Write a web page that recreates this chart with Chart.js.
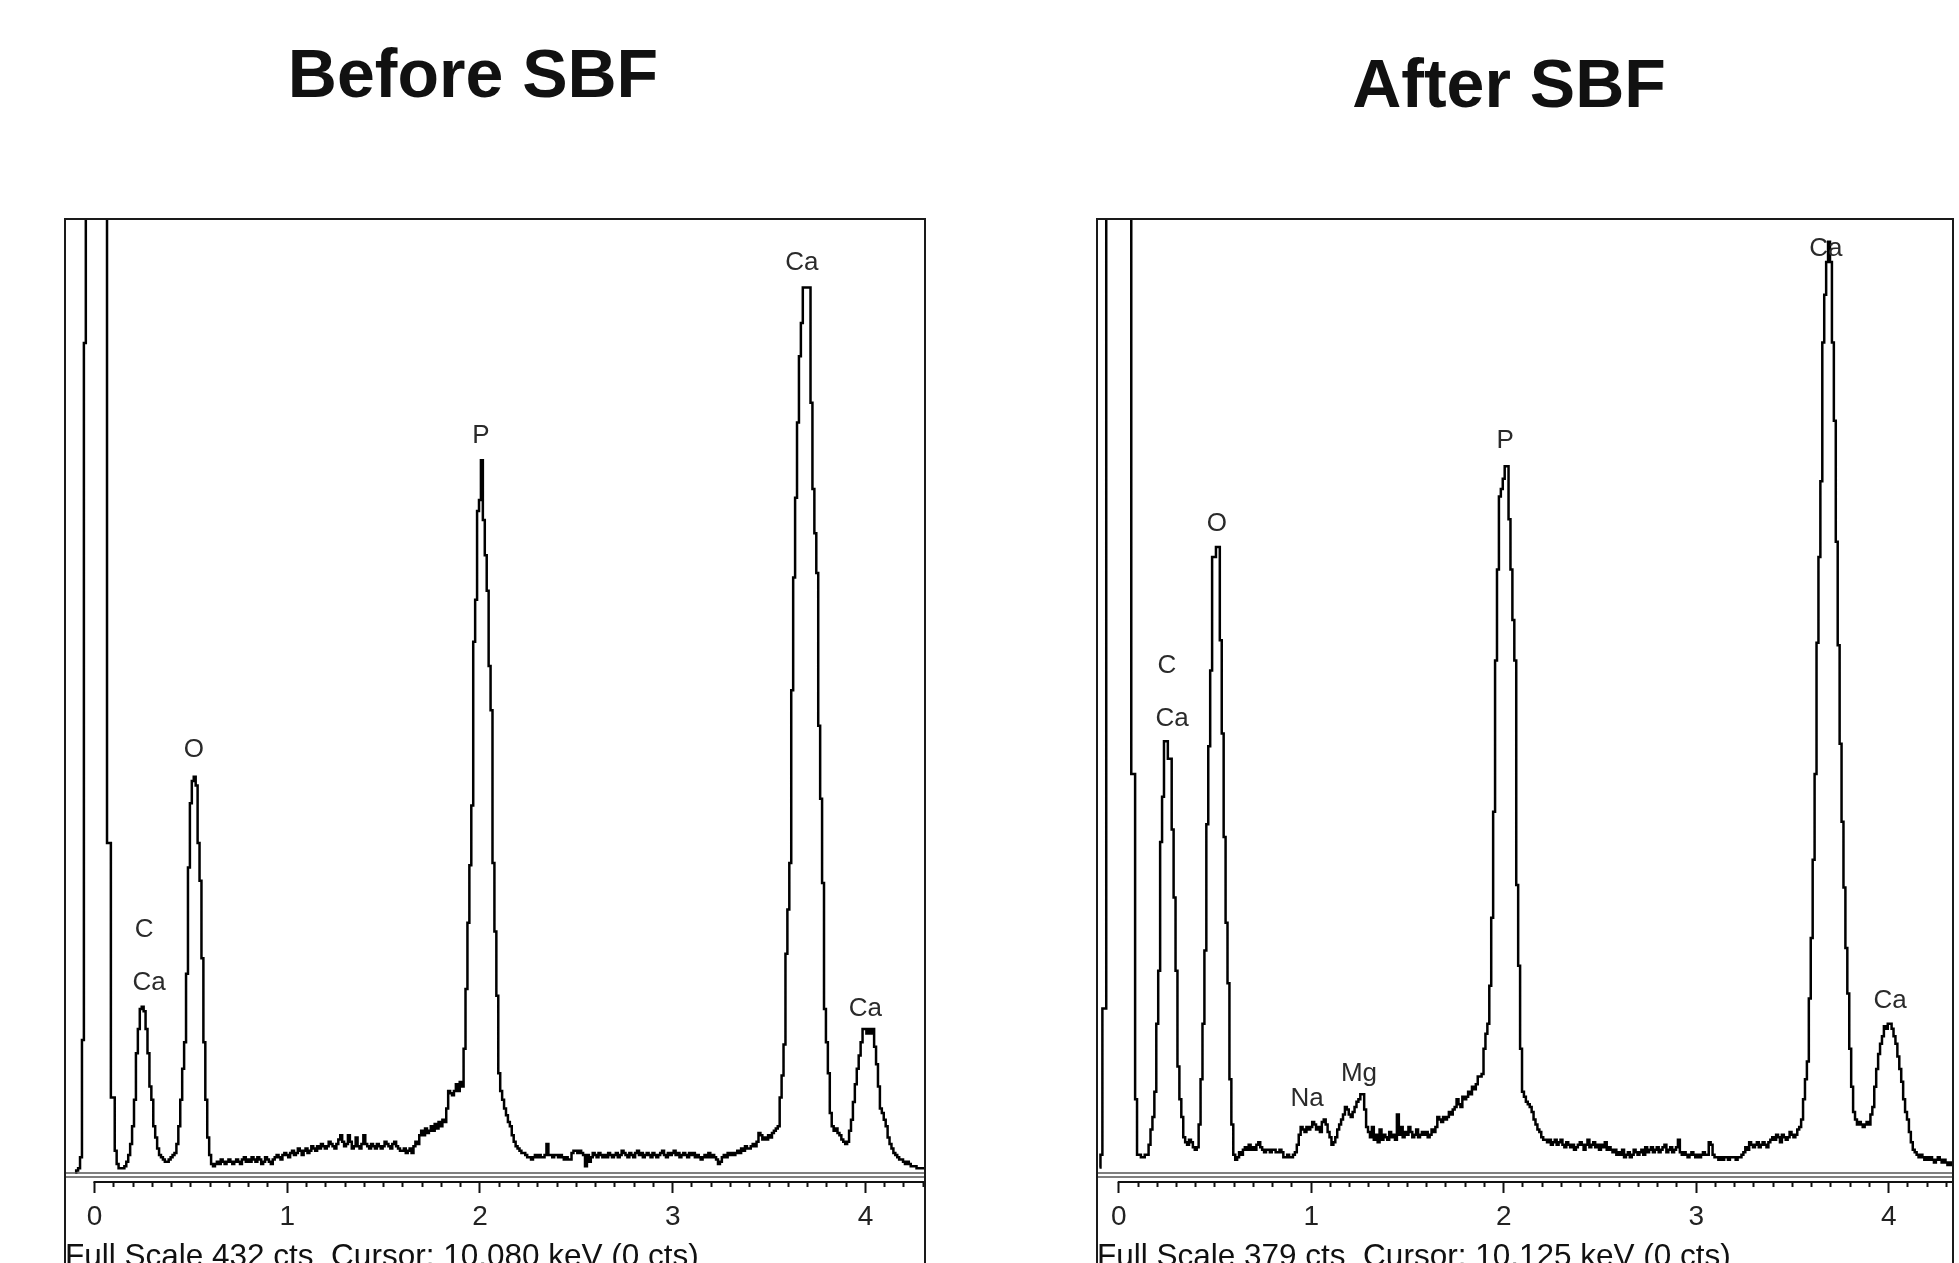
<!DOCTYPE html>
<html lang="en">
<head>
<meta charset="UTF-8">
<title>EDS spectra before and after SBF</title>
<script src="https://cdn.jsdelivr.net/npm/chart.js"></script>
<style>
  html, body { margin: 0; padding: 0; overflow: hidden; background: #fff; }
  body { width: 1959px; height: 1263px; position: relative; }
  canvas { position: absolute; top: 0; }
  #before { left: 0; }
  #after { left: 1059px; }
</style>
</head>
<body>
<canvas id="before" width="946" height="1280"></canvas>
<canvas id="after" width="900" height="1280"></canvas>

<script>
// spectra are stored per channel: first channel at -0.10 keV, 10 eV per channel
var channelStart = -0.10;
var channelWidth = 0.01;

// counts per channel, one row = 0.1 keV
var beforeCounts = [
  1, 2, 3, 8, 61, 376, 700, 999, 999, 999,          // -0.10
  999, 999, 999, 999, 999, 999, 999, 150, 150, 35,  // 0.00
  35, 11, 5, 3, 3, 3, 4, 6, 9, 14,                  // 0.10
  22, 34, 55, 66, 75, 76, 74, 66, 55, 40,           // 0.20
  34, 22, 17, 12, 9, 8, 7, 6, 6, 7,                 // 0.30
  8, 9, 10, 14, 22, 34, 48, 60, 91, 139,            // 0.40
  168, 178, 180, 176, 150, 133, 98, 60, 34, 17,     // 0.50
  9, 5, 4, 5, 6, 5, 7, 6, 5, 6,                     // 0.60
  7, 6, 5, 6, 7, 6, 5, 7, 8, 6,                     // 0.70
  7, 6, 8, 7, 6, 8, 7, 5, 6, 8,                     // 0.80
  7, 6, 5, 7, 8, 9, 8, 7, 9, 10,                    // 0.90
  9, 8, 10, 11, 9, 10, 12, 11, 9, 11,               // 1.00
  12, 10, 11, 13, 12, 11, 13, 12, 14, 13,           // 1.10
  12, 13, 15, 14, 13, 12, 14, 16, 18, 15,           // 1.20
  13, 14, 18, 15, 12, 13, 17, 13, 12, 14,           // 1.30
  18, 14, 13, 12, 14, 13, 12, 14, 13, 12,           // 1.40
  13, 15, 14, 13, 12, 14, 15, 13, 12, 11,           // 1.50
  11, 12, 10, 11, 12, 10, 13, 15, 14, 18,           // 1.60
  20, 18, 21, 19, 20, 22, 20, 23, 21, 24,           // 1.70
  22, 25, 24, 30, 38, 37, 36, 38, 41, 38,           // 1.80
  42, 40, 57, 84, 114, 140, 167, 241, 260, 300,     // 1.90
  305, 323, 296, 280, 264, 230, 210, 141, 110, 81,  // 2.00
  46, 38, 34, 30, 27, 24, 22, 18, 15, 13,           // 2.10
  12, 11, 10, 10, 9, 8, 8, 7, 8, 9,                 // 2.20
  8, 9, 8, 8, 9, 14, 9, 9, 8, 9,                    // 2.30
  9, 8, 9, 8, 7, 8, 7, 7, 10, 11,                   // 2.40
  11, 10, 11, 10, 9, 4, 9, 6, 8, 10,                // 2.50
  9, 8, 10, 9, 8, 9, 8, 10, 9, 8,                   // 2.60
  9, 10, 8, 9, 11, 10, 9, 8, 10, 9,                 // 2.70
  8, 10, 11, 9, 10, 8, 9, 10, 9, 8,                 // 2.80
  10, 9, 8, 9, 10, 11, 9, 8, 10, 9,                 // 2.90
  10, 11, 9, 10, 8, 9, 10, 9, 8, 10,                // 3.00
  9, 10, 8, 9, 8, 7, 8, 9, 8, 10,                   // 3.10
  8, 9, 8, 7, 5, 6, 8, 9, 8, 10,                    // 3.20
  9, 10, 9, 10, 11, 10, 12, 11, 13, 12,             // 3.30
  12, 13, 14, 13, 15, 19, 18, 16, 17, 16,           // 3.40
  18, 17, 19, 20, 21, 22, 35, 45, 59, 100,          // 3.50
  120, 141, 219, 270, 306, 340, 370, 385, 401, 401, // 3.60
  401, 401, 349, 310, 290, 272, 203, 170, 132, 75,  // 3.70
  60, 46, 28, 22, 20, 21, 19, 18, 16, 15,           // 3.80
  14, 15, 20, 25, 33, 41, 48, 54, 60, 66,           // 3.90
  66, 64, 66, 64, 66, 58, 50, 40, 30, 28,           // 4.00
  25, 22, 17, 14, 12, 10, 9, 8, 7, 7,               // 4.10
  6, 5, 6, 5, 4, 4, 4, 3, 3, 3,                     // 4.20
  3, 3                                              // 4.30
];

var afterCounts = [
  3, 8, 66, 66, 999, 999, 999, 999, 999, 999,       // -0.10
  999, 999, 999, 999, 999, 999, 999, 159, 159, 30,  // 0.00
  8, 8, 7, 7, 8, 8, 12, 18, 23, 33,                 // 0.10
  60, 81, 132, 150, 172, 172, 165, 165, 137, 110,   // 0.20
  81, 43, 30, 23, 15, 13, 12, 14, 13, 11,           // 0.30
  10, 11, 20, 38, 60, 89, 139, 170, 200, 245,       // 0.40
  245, 249, 249, 212, 175, 134, 100, 76, 38, 20,    // 0.50
  8, 6, 7, 9, 8, 10, 11, 10, 12, 10,                // 0.60
  11, 10, 12, 13, 11, 10, 9, 10, 10, 9,             // 0.70
  10, 10, 9, 9, 10, 9, 7, 7, 8, 7,                  // 0.80
  7, 8, 9, 12, 16, 19, 18, 17, 19, 18,              // 0.90
  19, 21, 20, 18, 19, 17, 21, 22, 20, 17,           // 1.00
  15, 12, 13, 15, 18, 20, 22, 24, 27, 26,           // 1.10
  24, 23, 25, 27, 29, 30, 32, 32, 26, 19,           // 1.20
  17, 15, 19, 14, 16, 13, 18, 14, 16, 15,           // 1.30
  14, 17, 15, 16, 14, 24, 16, 19, 15, 17,           // 1.40
  16, 19, 17, 15, 16, 18, 15, 16, 17, 16,           // 1.50
  17, 15, 16, 18, 17, 19, 23, 22, 21, 23,           // 1.60
  22, 23, 25, 24, 26, 27, 30, 28, 27, 31,           // 1.70
  30, 31, 33, 32, 35, 34, 36, 39, 39, 40,           // 1.80
  50, 56, 60, 75, 102, 144, 204, 240, 269, 272,     // 1.90
  276, 281, 281, 260, 240, 220, 204, 115, 83, 50,   // 2.00
  33, 31, 29, 28, 27, 25, 22, 20, 18, 17,           // 2.10
  15, 14, 14, 13, 14, 12, 13, 14, 12, 13,           // 2.20
  14, 12, 11, 13, 12, 11, 12, 10, 11, 12,           // 2.30
  13, 12, 10, 12, 14, 11, 12, 13, 11, 12,           // 2.40
  10, 12, 11, 13, 10, 11, 10, 9, 10, 8,             // 2.50
  9, 8, 10, 7, 8, 9, 7, 8, 10, 9,                   // 2.60
  8, 9, 10, 8, 11, 9, 10, 11, 9, 10,                // 2.70
  11, 9, 10, 11, 12, 9, 10, 11, 9, 10,              // 2.80
  11, 14, 9, 8, 9, 8, 7, 8, 9, 8,                   // 2.90
  7, 8, 7, 8, 9, 8, 8, 13, 12, 8,                   // 3.00
  7, 7, 6, 7, 6, 7, 7, 6, 7, 7,                     // 3.10
  7, 6, 7, 7, 8, 9, 11, 10, 13, 12,                 // 3.20
  11, 12, 13, 11, 12, 13, 12, 11, 13, 14,           // 3.30
  15, 14, 16, 15, 13, 16, 15, 14, 15, 17,           // 3.40
  16, 15, 16, 18, 19, 22, 30, 38, 45, 70,           // 3.50
  94, 125, 159, 211, 245, 275, 330, 349, 362, 370,  // 3.60
  362, 330, 299, 251, 210, 171, 140, 114, 90, 72,   // 3.70
  50, 35, 25, 22, 20, 21, 20, 19, 20, 21,           // 3.80
  20, 24, 27, 35, 42, 48, 52, 55, 59, 58,           // 3.90
  60, 60, 58, 55, 52, 47, 42, 37, 30, 25,           // 4.00
  22, 17, 13, 10, 9, 8, 7, 8, 7, 6,                 // 4.10
  7, 6, 7, 6, 5, 6, 7, 6, 5, 6,                     // 4.20
  5, 4, 5, 4                                        // 4.30
];

// peak labels (energy in keV, height in counts)
var beforeLabelText = ['Ca', 'P', 'O', 'C', 'Ca', 'Ca'];
var beforeLabelKeV = [3.67, 2.005, 0.516, 0.257, 0.283, 4.0];
var beforeLabelCts = [412, 334, 192, 111, 87, 75];

var afterLabelText = ['Ca', 'P', 'O', 'C', 'Ca', 'Na', 'Mg', 'Ca'];
var afterLabelKeV = [3.674, 2.007, 0.51, 0.25, 0.277, 0.978, 1.248, 4.007];
var afterLabelCts = [367, 291, 258, 202, 181, 30, 40, 69];

// energy axis: labelled every keV, small ticks every 0.1 keV
var majorTicks = [0, 1, 2, 3, 4];
var energyTicks = [];
for (var i = 0; i <= 44; i++) energyTicks.push(i / 10);

Chart.defaults.font.family = "'Liberation Sans', Arial, Helvetica, sans-serif";
Chart.defaults.color = '#222';

function isMajor(v) {
  return majorTicks.some(function (m) { return Math.abs(m - v) < 1e-6; });
}

function channelPoints(counts) {
  return counts.map(function (c, i) {
    return { x: +(channelStart + i * channelWidth).toFixed(2), y: c };
  });
}

// box around the plot (runs off the bottom of the page), double base line and the keV axis line
var framePlugin = {
  id: 'edsFrame',
  afterDraw: function (chart) {
    var ctx = chart.ctx;
    var area = chart.chartArea;
    var zero = chart.scales.y.getPixelForValue(0);
    ctx.save();
    ctx.strokeStyle = '#555';
    ctx.lineWidth = 1.5;
    ctx.beginPath();
    ctx.moveTo(area.left, zero - 2); ctx.lineTo(area.right, zero - 2);
    ctx.moveTo(area.left, zero + 2); ctx.lineTo(area.right, zero + 2);
    ctx.stroke();

    ctx.strokeStyle = '#111';
    ctx.lineWidth = 2;
    ctx.beginPath();
    ctx.moveTo(chart.scales.x.getPixelForValue(0) - 1, area.bottom);
    ctx.lineTo(area.right, area.bottom);
    ctx.stroke();

    ctx.strokeStyle = '#1a1a1a';
    ctx.strokeRect(area.left, area.top, area.right - area.left, chart.height);
    ctx.restore();
  }
};

function makePeakLabels(text, keV, cts) {
  return {
    id: 'peakLabels',
    afterDatasetsDraw: function (chart) {
      var ctx = chart.ctx;
      ctx.save();
      ctx.font = "26px 'Liberation Sans', Arial, sans-serif";
      ctx.fillStyle = '#2a2a2a';
      ctx.textAlign = 'center';
      ctx.textBaseline = 'middle';
      for (var i = 0; i < text.length; i++) {
        ctx.fillText(text[i], chart.scales.x.getPixelForValue(keV[i]), chart.scales.y.getPixelForValue(cts[i]));
      }
      ctx.restore();
    }
  };
}

function drawSpectrum(canvasId, o) {
  return new Chart(document.getElementById(canvasId), {
    type: 'line',
    data: {
      datasets: [{
        data: channelPoints(o.counts),
        borderColor: '#000',
        borderWidth: 2.5,
        pointRadius: 0,
        stepped: 'middle',
        fill: false
      }]
    },
    options: {
      responsive: false,
      animation: false,
      events: [],
      layout: { padding: 0 },
      plugins: {
        legend: { display: false },
        tooltip: { enabled: false },
        title: {
          display: true,
          text: o.title,
          color: '#111',
          font: { size: 68, weight: 'bold' },
          padding: { top: o.titleTop, bottom: o.titleGap }
        }
      },
      scales: {
        x: {
          type: 'linear',
          min: o.kevMin,
          max: o.kevMax,
          afterBuildTicks: function (s) {
            s.ticks = energyTicks.filter(function (v) { return v <= o.kevMax; })
              .map(function (v) { return { value: v }; });
          },
          afterFit: function (s) { s.height = 98; },
          border: { display: false },
          grid: {
            drawOnChartArea: false,
            tickLength: 11,
            tickWidth: 2,
            tickColor: '#111',
            tickBorderDash: function (c) {
              return c.tick && isMajor(c.tick.value) ? [] : [5, 40];
            }
          },
          ticks: {
            autoSkip: false,
            maxRotation: 0,
            padding: 7,
            color: '#222',
            font: { size: 28 },
            callback: function (v) { return isMajor(v) ? String(Math.round(v)) : ''; }
          },
          title: {
            display: true,
            text: o.footer,
            align: 'start',
            color: '#111',
            font: { size: 31.5 },
            padding: { top: 0, bottom: 4 }
          }
        },
        y: {
          type: 'linear',
          position: 'left',
          min: o.ctsMin,
          max: o.fullScale,
          afterFit: function (s) { s.width = o.leftGap; },
          ticks: { display: false },
          grid: { display: false },
          border: { display: false }
        },
        yRight: {
          type: 'linear',
          position: 'right',
          afterFit: function (s) { s.width = o.rightGap; },
          ticks: { display: false },
          grid: { display: false },
          border: { display: false }
        }
      }
    },
    plugins: [framePlugin, makePeakLabels(o.labelText, o.labelKeV, o.labelCts)]
  });
}

drawSpectrum('before', {
  title: 'Before SBF',
  titleTop: 37,
  titleGap: 100.4,
  counts: beforeCounts,
  kevMin: -0.153,
  kevMax: 4.309,
  ctsMin: -3.16,
  fullScale: 432,
  leftGap: 65,
  rightGap: 21,
  footer: 'Full Scale 432 cts  Cursor: 10.080 keV (0 cts)',
  labelText: beforeLabelText,
  labelKeV: beforeLabelKeV,
  labelCts: beforeLabelCts
});

drawSpectrum('after', {
  title: 'After SBF',
  titleTop: 47,
  titleGap: 90.4,
  counts: afterCounts,
  kevMin: -0.113,
  kevMax: 4.334,
  ctsMin: -2.78,
  fullScale: 379,
  leftGap: 38,
  rightGap: 6,
  footer: 'Full Scale 379 cts  Cursor: 10.125 keV (0 cts)',
  labelText: afterLabelText,
  labelKeV: afterLabelKeV,
  labelCts: afterLabelCts
});
</script>
</body>
</html>
